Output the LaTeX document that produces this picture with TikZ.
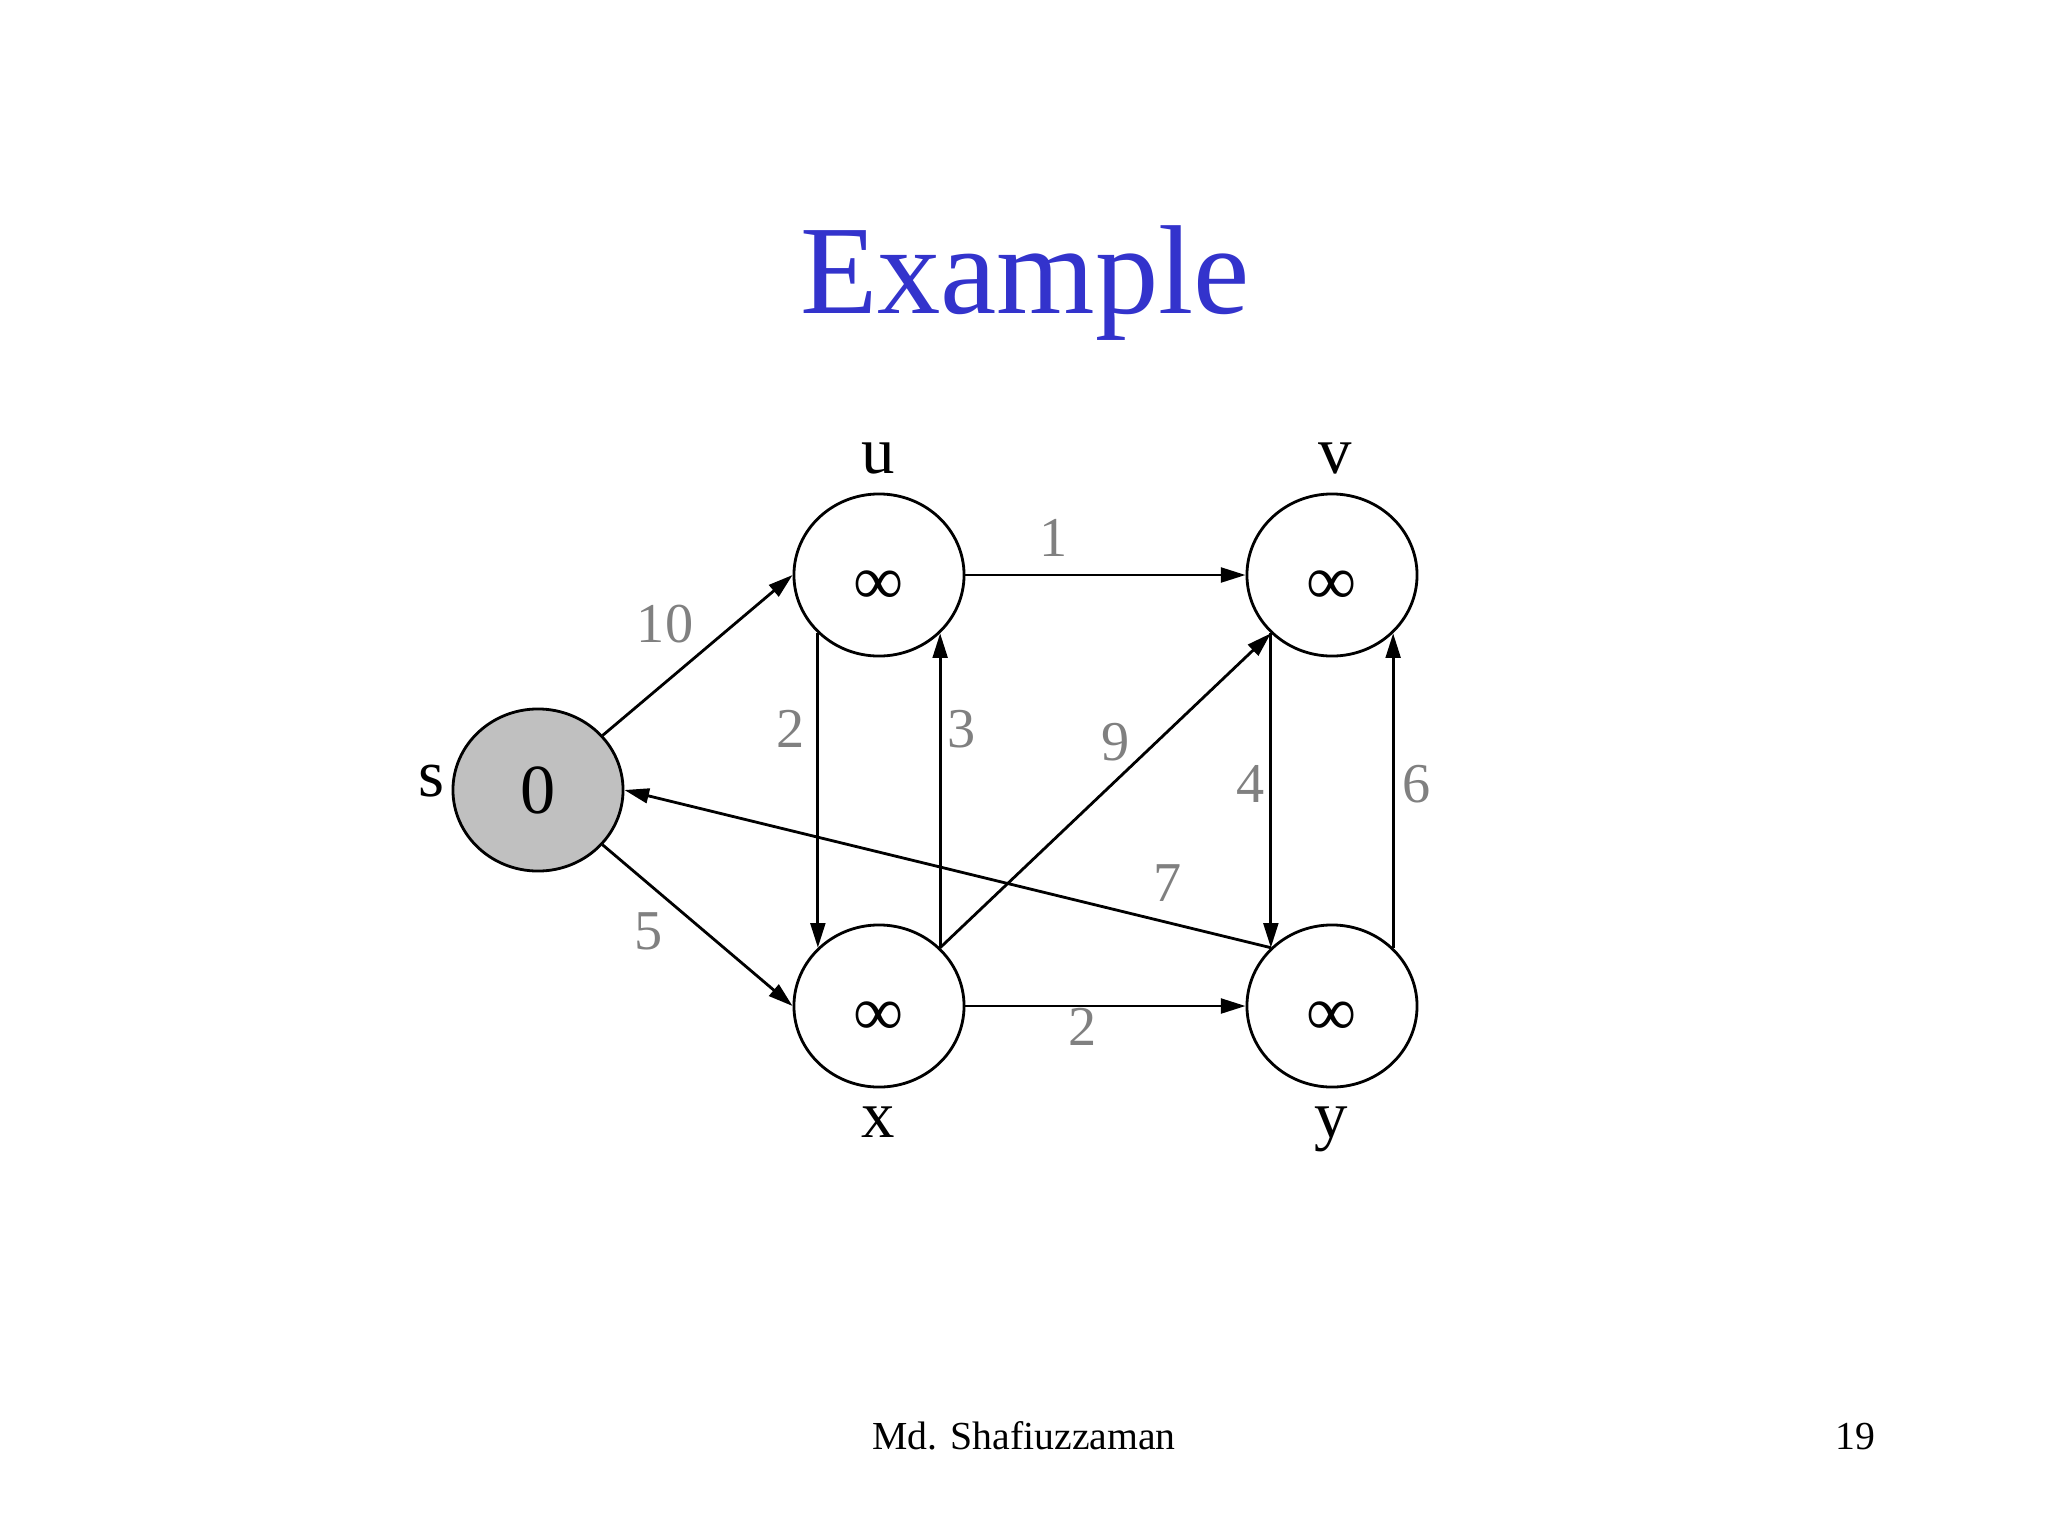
\documentclass[tikz,border=0pt]{standalone}
\usepackage{fontspec}
\setmainfont{Liberation Serif}
\usetikzlibrary{shapes.geometric,arrows.meta}
\definecolor{titleblue}{RGB}{51,51,204}
\definecolor{wgray}{RGB}{128,128,128}
\definecolor{sfill}{RGB}{192,192,192}
\newcommand{\infsym}{\raisebox{-1.5pt}{∞}}
\begin{document}
\begin{tikzpicture}[x=0.01cm,y=-0.01cm,
  vert/.style={ellipse,draw,line width=0.8pt,minimum width=1.7cm,minimum height=1.62cm,inner sep=0pt,text height=13.5pt,text depth=0pt,font=\fontsize{20}{24}\selectfont},
  edge/.style={line width=0.8pt,-{Triangle[length=7pt,width=4.2pt]}},
  wt/.style={text=wgray,inner sep=0pt,font=\fontsize{16}{19}\selectfont},
  vname/.style={anchor=base,inner sep=0pt,font=\fontsize{19}{23}\selectfont},
  foot/.style={anchor=base,inner sep=0pt,font=\fontsize{11.3}{14}\selectfont},
]
\useasboundingbox[fill=white] (0,0) rectangle (2048,1536);
\node[anchor=base,inner sep=0pt,text=titleblue,font=\fontsize{36}{43}\selectfont] (title) at (1025,313) {Example};

\node[vert,fill=sfill] (s) at (538,790) {0};
\node[vert] (u) at (879,575) {\infsym};
\node[vert] (v) at (1332,575) {\infsym};
\node[vert] (x) at (879,1006) {\infsym};
\node[vert] (y) at (1332,1006) {\infsym};

\node[vname] (ls) at (431,796) {s};
\node[vname] (lu) at (878,473) {u};
\node[vname] (lv) at (1335,473) {v};
\node[vname] (lx) at (878,1137) {x};
\node[vname] (ly) at (1331,1137) {y};

\draw[edge] (s) -- (u.west);
\draw[edge] (s) -- (x.west);
\draw[edge] (u.east) -- (v.west);
\draw[edge] (u.south west) -- (x.north west);
\draw[edge] (x.north east) -- (u.south east);
\draw[edge] (x.north east) -- (v.south west);
\draw[edge] (v.south west) -- (y.north west);
\draw[edge] (y.north east) -- (v.south east);
\draw[edge] (y.north west) -- (s.east);
\draw[edge] (x.east) -- (y.west);

\node[wt] (w10) at (665,624) {10};
\node[wt] (w1) at (1054,538) {1};
\node[wt] (w2a) at (791,729) {2};
\node[wt] (w3) at (962,729) {3};
\node[wt] (w9) at (1116,742) {9};
\node[wt] (w4) at (1251,784) {4};
\node[wt] (w6) at (1417,784) {6};
\node[wt] (w7) at (1168,883) {7};
\node[wt] (w5) at (649,931) {5};
\node[wt] (w2b) at (1083,1027) {2};

\node[foot] (author) at (1024,1449) {Md. Shafiuzzaman};
\node[foot] (page) at (1855,1449) {19};
\end{tikzpicture}
\end{document}
